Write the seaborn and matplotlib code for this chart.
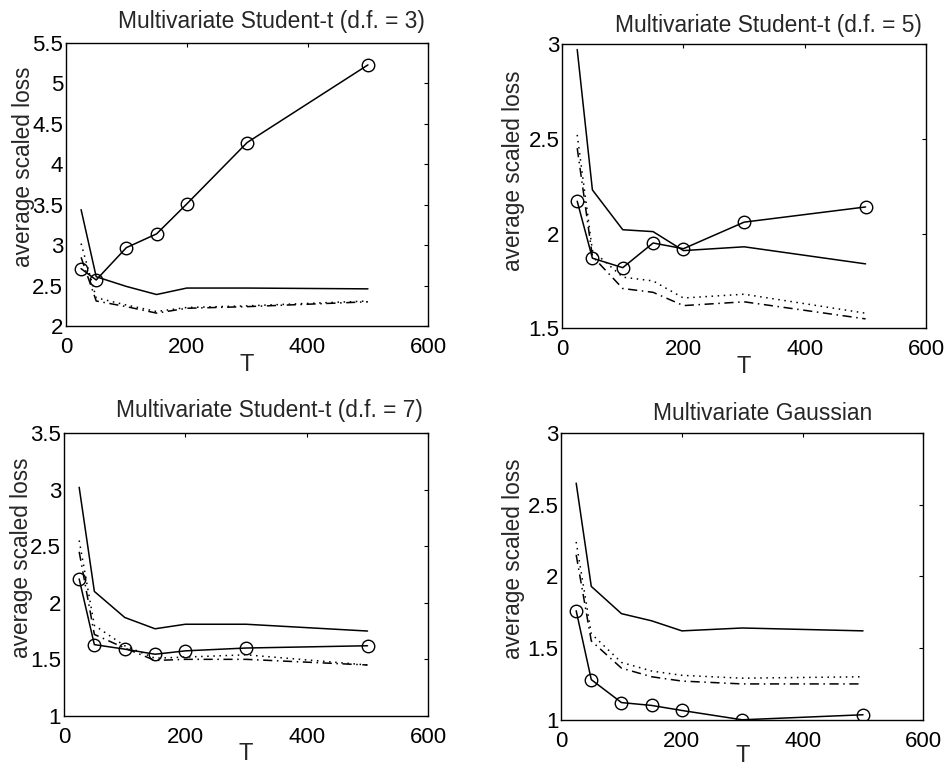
import numpy as np
import pandas as pd
import matplotlib
matplotlib.use("Agg")
import matplotlib.pyplot as plt
import seaborn as sns

T = [25, 50, 100, 150, 200, 300, 500]

titles = ["Multivariate Student-t (d.f. = 3)",
          "Multivariate Student-t (d.f. = 5)",
          "Multivariate Student-t (d.f. = 7)",
          "Multivariate Gaussian"]

# series per panel: solid, dotted, dash-dot, solid with circles
solid_df3 = [3.44, 2.61, 2.49, 2.39, 2.47, 2.47, 2.46]
dotted_df3 = [3.02, 2.35, 2.26, 2.18, 2.23, 2.25, 2.31]
dashdot_df3 = [2.85, 2.31, 2.24, 2.16, 2.22, 2.24, 2.30]
circle_df3 = [2.71, 2.57, 2.97, 3.14, 3.51, 4.27, 5.23]

solid_df5 = [2.97, 2.23, 2.02, 2.01, 1.91, 1.93, 1.84]
dotted_df5 = [2.52, 1.91, 1.77, 1.75, 1.66, 1.68, 1.58]
dashdot_df5 = [2.45, 1.88, 1.71, 1.69, 1.62, 1.64, 1.55]
circle_df5 = [2.17, 1.87, 1.82, 1.95, 1.92, 2.06, 2.14]

solid_df7 = [3.02, 2.10, 1.87, 1.77, 1.81, 1.81, 1.75]
dotted_df7 = [2.55, 1.80, 1.62, 1.51, 1.52, 1.54, 1.45]
dashdot_df7 = [2.45, 1.72, 1.60, 1.49, 1.50, 1.50, 1.45]
circle_df7 = [2.21, 1.63, 1.59, 1.545, 1.575, 1.60, 1.62]

solid_gauss = [2.65, 1.93, 1.74, 1.69, 1.62, 1.64, 1.62]
dotted_gauss = [2.24, 1.60, 1.40, 1.34, 1.31, 1.29, 1.30]
dashdot_gauss = [2.15, 1.55, 1.36, 1.30, 1.27, 1.25, 1.25]
circle_gauss = [1.76, 1.28, 1.12, 1.10, 1.065, 1.00, 1.035]

panels = [
    (solid_df3, dotted_df3, dashdot_df3, circle_df3),
    (solid_df5, dotted_df5, dashdot_df5, circle_df5),
    (solid_df7, dotted_df7, dashdot_df7, circle_df7),
    (solid_gauss, dotted_gauss, dashdot_gauss, circle_gauss),
]

ylims = [(2, 5.5), (1.5, 3), (1, 3.5), (1, 3)]
yticks = [[2, 2.5, 3, 3.5, 4, 4.5, 5, 5.5],
          [1.5, 2, 2.5, 3],
          [1, 1.5, 2, 2.5, 3, 3.5],
          [1, 1.5, 2, 2.5, 3]]
xticks = [0, 200, 400, 600]

sns.set_style("white")
plt.rcParams['font.family'] = ['Liberation Sans', 'DejaVu Sans']

fig = plt.figure(figsize=(9.51, 7.69), dpi=100)
positions = [
    [0.0694, 0.576, 0.381, 0.368],
    [0.591, 0.573, 0.383, 0.370],
    [0.0673, 0.069, 0.383, 0.368],
    [0.590, 0.064, 0.381, 0.373],
]
title_x = [0.566, 0.566, 0.563, 0.555]
title_pad = [10.8, 8.6, 11.5, 9.4]
ylabel_xy = [(-0.086, 0.562), (-0.102, 0.553), (-0.085, 0.56), (-0.099, 0.561)]
xlabel_y = [-0.159, -0.158, -0.155, -0.146]

for i, (pos, data) in enumerate(zip(positions, panels)):
    ax = fig.add_axes(pos)
    solid, dotted, dashdot, circ = data
    df = pd.DataFrame({"T": T, "solid": solid, "dotted": dotted,
                       "dashdot": dashdot, "circ": circ})
    sns.lineplot(data=df, x="T", y="solid", ax=ax, color="k", lw=1.1)
    sns.lineplot(data=df, x="T", y="dotted", ax=ax, color="k", lw=1.1,
                 linestyle=(0, (1, 3)))
    sns.lineplot(data=df, x="T", y="dashdot", ax=ax, color="k", lw=1.1,
                 linestyle=(0, (6, 3, 1, 3)))
    sns.lineplot(data=df, x="T", y="circ", ax=ax, color="k", lw=1.1,
                 marker="o", markersize=9, markerfacecolor="none",
                 markeredgecolor="k", markeredgewidth=1.0)
    ax.set_xlim(0, 600)
    ax.set_ylim(*ylims[i])
    ax.set_xticks(xticks)
    ax.set_yticks(yticks[i])
    ax.set_xticklabels([f"{v:g}" for v in xticks])
    ax.set_yticklabels([f"{v:g}" for v in yticks[i]])
    ax.tick_params(direction="in", length=3, width=0.8, top=True, right=True,
                   labelsize=16, colors="k")
    ax.tick_params(axis="x", pad=8)
    ax.tick_params(axis="y", pad=2)
    for s in ax.spines.values():
        s.set_visible(True)
        s.set_color("k")
        s.set_linewidth(1.0)
    ax.set_xlabel("T", fontsize=17)
    ax.xaxis.set_label_coords(0.5, xlabel_y[i])
    ax.xaxis.label.set_va("baseline")
    ax.set_ylabel("average scaled loss", fontsize=16.3)
    ax.yaxis.set_label_coords(*ylabel_xy[i])
    ax.set_title(titles[i], fontsize=16.4, x=title_x[i], pad=title_pad[i])

fig.savefig("out.png", dpi=100)
